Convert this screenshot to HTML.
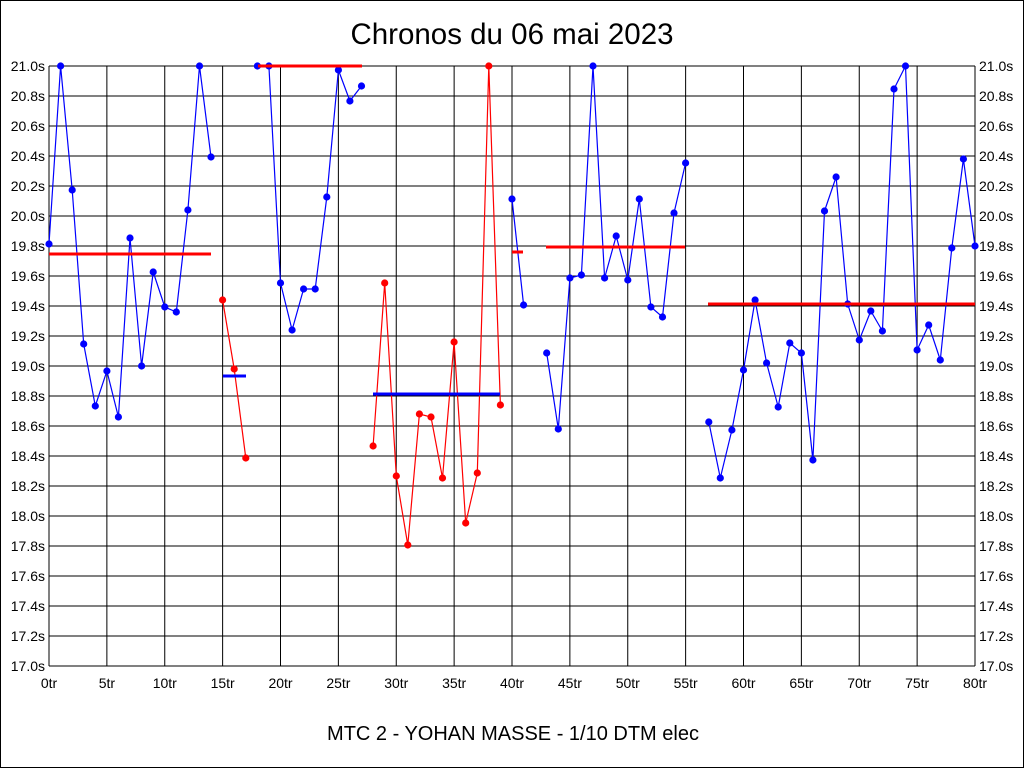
<!DOCTYPE html>
<html><head><meta charset="utf-8"><style>
html,body{margin:0;padding:0;background:#fff;}
svg{display:block;font-family:"Liberation Sans",Arial,sans-serif;}
</style></head><body>
<svg id="c" width="1024" height="768" xmlns="http://www.w3.org/2000/svg">
<rect x="0.5" y="0.5" width="1023" height="767" fill="#fff" stroke="#000"/>
<text x="512" y="44" font-size="29.5" text-anchor="middle">Chronos du 06 mai 2023</text>
<text x="513" y="740" font-size="20" text-anchor="middle">MTC 2 - YOHAN MASSE - 1/10 DTM elec</text>
<g id="g"></g>
</svg>
<script>
var g=document.getElementById('g'),s='';
function X(i){return 49+11.575*i;}
for(var k=0;k<=20;k++){var y=66+30*k;
s+='<line x1="49" y1="'+y+'" x2="975" y2="'+y+'" stroke="#000"/>';
var v=(21-0.2*k).toFixed(1)+'s';
s+='<text x="45" y="'+(y+5)+'" font-size="14" text-anchor="end">'+v+'</text>';
s+='<text x="979" y="'+(y+5)+'" font-size="14">'+v+'</text>';}
for(var k=0;k<=16;k++){var x=49+57.875*k;
s+='<line x1="'+x+'" y1="66" x2="'+x+'" y2="666" stroke="#000"/>';
s+='<text x="'+x+'" y="688" font-size="14" text-anchor="middle">'+(5*k)+'tr</text>';}
var segs=[
['#00f',0,[244,66,190,344,406,371,417,238,366,272,307,312,210,66,157]],
['#f00',15,[300,369,458]],
['#00f',18,[66,66,283,330,289,289,197,70,101,86]],
['#f00',28,[446,283,476,545,414,417,478,342,523,473,66,405]],
['#00f',40,[199,305]],
['#00f',43,[353,429,278,275,66,278,236,280,199,307,317,213,163]],
['#00f',57,[422,478,430,370,300,363,407,343,353,460,211,177,304,340,311,331,89,66,350,325,360,248,159,246]]];
segs.forEach(function(sg){var p=sg[2].map(function(y,j){return X(sg[1]+j).toFixed(1)+','+y;});
s+='<polyline points="'+p.join(' ')+'" fill="none" stroke="'+sg[0]+'" stroke-width="1.2"/>';
p.forEach(function(q){var a=q.split(',');s+='<circle cx="'+a[0]+'" cy="'+a[1]+'" r="3.6" fill="'+sg[0]+'"/>';});});
var m=[['#f00',49,211,254],['#00f',223,246,376],['#f00',258,362,66],['#00f',373,500,394],['#f00',512,523,252],['#f00',546,685,247],['#f00',708,975,304]];
m.forEach(function(a){s+='<line x1="'+a[1]+'" y1="'+a[3]+'" x2="'+a[2]+'" y2="'+a[3]+'" stroke="'+a[0]+'" stroke-width="3"/>';});
g.innerHTML=s;
</script>
</body></html>
